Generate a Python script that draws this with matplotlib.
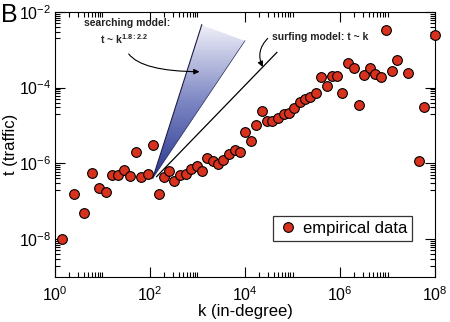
# Traffic vs in-degree, log-log, with searching / surfing model guides

import matplotlib
matplotlib.use('Agg')
import matplotlib.pyplot as plt
from matplotlib.colors import LinearSegmentedColormap
from matplotlib.patches import Polygon
import numpy as np

plt.rcParams['font.family'] = ['Liberation Sans', 'DejaVu Sans']
plt.rcParams['mathtext.fontset'] = 'custom'
plt.rcParams['mathtext.rm'] = 'Liberation Sans'
plt.rcParams['mathtext.it'] = 'Liberation Sans'
plt.rcParams['mathtext.bf'] = 'Liberation Sans:bold'

# empirical data (log10 values)
log_k = [0.14, 0.41, 0.61, 0.79, 0.93, 1.08, 1.20, 1.33, 1.46, 1.59, 1.70, 1.82, 1.95,
         2.06, 2.18, 2.29, 2.40, 2.51, 2.63, 2.75, 2.86, 2.98, 3.09, 3.20, 3.32, 3.44,
         3.54, 3.66, 3.78, 3.89, 4.00, 4.12, 4.23, 4.35, 4.46, 4.57, 4.69, 4.81, 4.92,
         5.03, 5.15, 5.26, 5.37, 5.49, 5.60, 5.72, 5.82, 5.94, 6.05, 6.17, 6.29, 6.40,
         6.51, 6.63, 6.74, 6.86, 6.97, 7.09, 7.19, 7.42, 7.66, 7.77, 8.00]
log_t = [-8.00, -6.82, -7.31, -6.26, -6.64, -6.76, -6.32, -6.32, -6.17, -6.33, -5.71, -6.35, -6.28,
         -5.52, -6.82, -6.36, -6.21, -6.46, -6.30, -6.27, -6.15, -6.06, -6.21, -5.85, -5.93, -6.02,
         -5.91, -5.74, -5.66, -5.69, -5.16, -5.41, -4.99, -4.61, -4.89, -4.87, -4.81, -4.69, -4.67,
         -4.55, -4.37, -4.29, -4.25, -4.13, -3.71, -3.97, -3.69, -3.68, -4.13, -3.35, -3.49, -4.46,
         -3.67, -3.48, -3.64, -3.71, -2.49, -3.57, -3.28, -3.62, -5.94, -4.52, -2.60]

# searching model fan: apex, then the two far corners (log10 k, log10 t)
fan_log_k = [2.06, 3.09, 4.00]
fan_log_t = [-6.39, -2.34, -2.76]

# surfing model line
surf_log_k = [2.14, 4.67]
surf_log_t = [-6.35, -3.07]

k = 10 ** np.array(log_k)
t = 10 ** np.array(log_t)

fig = plt.figure(figsize=(4.5, 3.22), dpi=100)
ax = fig.add_axes([0.122, 0.140, 0.845, 0.823])
ax.set_xscale('log')
ax.set_yscale('log')
ax.set_xlim(1, 1e8)
ax.set_ylim(1e-9, 1e-2)

# gradient-filled fan
fk = 10 ** np.array(fan_log_k)
ft = 10 ** np.array(fan_log_t)
cmap = LinearSegmentedColormap.from_list('fan', ['#2a3890', '#7c86c3', '#efeff8'])
gx = np.logspace(fan_log_k[0], fan_log_k[2], 60)
gy = np.logspace(fan_log_t[0], fan_log_t[1], 120)
GX, GY = np.meshgrid(gx, gy)
mesh = ax.pcolormesh(GX, GY, np.log10(GY), cmap=cmap, shading='auto', zorder=1)
fan = Polygon(list(zip(fk, ft)), closed=True, facecolor='none', edgecolor='none',
              transform=ax.transData)
ax.add_patch(fan)
mesh.set_clip_path(fan)
ax.plot([fk[0], fk[1]], [ft[0], ft[1]], color='#1a1a40', lw=0.8, zorder=2)
ax.plot([fk[0], fk[2]], [ft[0], ft[2]], color='#30305a', lw=0.5, zorder=2)

ax.plot(10 ** np.array(surf_log_k), 10 ** np.array(surf_log_t), color='black', lw=0.9, zorder=2)

ax.plot(k, t, 'o', ms=7, mfc='#d8321f', mec='black', mew=0.8,
        label='empirical data', zorder=3, clip_on=False)

# annotations
ax.text(10 ** 0.61, 10 ** -2.28, 'searching model:', fontsize=7.5, fontweight='bold',
        color='#222222', ha='left', va='center')
ax.text(10 ** 0.95, 10 ** -2.72, r't ~ k$^{\mathbf{1.8:2.2}}$', fontsize=7.5, fontweight='bold',
        color='#222222', ha='left', va='center')
ax.annotate('', xy=(10 ** 3.10, 10 ** -3.58), xytext=(10 ** 1.52, 10 ** -3.05),
            arrowprops=dict(arrowstyle='-|>', color='black', lw=0.8, mutation_scale=8,
                            connectionstyle='angle3,angleA=-60,angleB=0'))
ax.text(10 ** 4.57, 10 ** -2.66, 'surfing model: t ~ k', fontsize=7.5, fontweight='bold',
        color='#222222', ha='left', va='center')
ax.annotate('', xy=(10 ** 4.40, 10 ** -3.52), xytext=(10 ** 4.52, 10 ** -2.65),
            arrowprops=dict(arrowstyle='-|>', color='black', lw=0.8, mutation_scale=8,
                            connectionstyle='arc3,rad=0.4'))

# xmgrace-like ticks: major every two decades, minor only in even decades
majors_x = [10.0 ** e for e in range(0, 9, 2)]
minors_x = [m * 10.0 ** e for e in range(0, 8, 2) for m in range(2, 11)]
majors_y = [10.0 ** e for e in range(-8, -1, 2)]
minors_y = [m * 10.0 ** e for e in range(-9, -2, 2) for m in range(2, 11)]
ax.set_xticks(majors_x)
ax.set_xticklabels([r'$10^{%d}$' % e for e in range(0, 9, 2)])
ax.set_xticks(minors_x, minor=True)
ax.set_yticks(majors_y)
ax.set_yticklabels([r'$10^{%d}$' % e for e in range(-8, -1, 2)])
ax.set_yticks(minors_y, minor=True)
ax.set_xticklabels([], minor=True)
ax.set_yticklabels([], minor=True)
ax.tick_params(which='both', direction='in', top=True, right=True, width=0.8, labelsize=11.5)
ax.tick_params(which='major', length=7)
ax.tick_params(which='minor', length=3.5)
ax.tick_params(axis='x', pad=6)
ax.tick_params(axis='y', pad=2.5)

ax.set_xlabel('k (in-degree)', fontsize=12, labelpad=0)
ax.set_ylabel('t (traffic)', fontsize=12)
ax.yaxis.set_label_coords(-0.098, 0.5)

leg = ax.legend(loc='lower right', bbox_to_anchor=(0.94, 0.135), fontsize=12,
                frameon=True, fancybox=False, handletextpad=0.3, borderpad=0.3,
                handlelength=1.2, borderaxespad=0)
leg.get_frame().set_edgecolor('black')
leg.get_frame().set_linewidth(0.9)

fig.text(0.002, 0.99, 'B', fontsize=18, ha='left', va='top')

fig.savefig('out.png', dpi=100)
